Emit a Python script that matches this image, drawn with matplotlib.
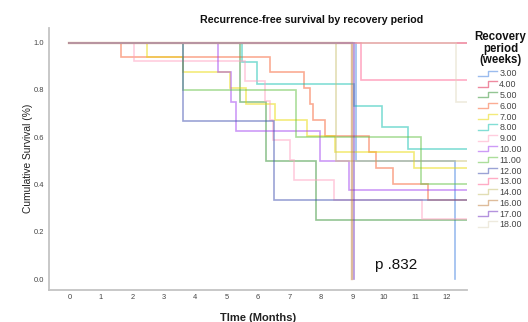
import matplotlib
matplotlib.use("Agg")
import matplotlib.pyplot as plt
from matplotlib.lines import Line2D
from matplotlib.legend_handler import HandlerBase

plt.rcParams['font.family'] = ['Liberation Sans', 'DejaVu Sans']

# ---- data ----
groups = ['3.00', '4.00', '5.00', '6.00', '7.00', '8.00', '9.00', '10.00',
          '11.00', '12.00', '13.00', '14.00', '16.00', '17.00', '18.00']

step_times = [
    [9.12, 12.27],                                              # 3.00
    [],                                                         # 4.00
    [5.44, 6.25, 7.83],                                         # 5.00
    [1.64, 6.39, 7.45, 7.65, 7.76, 8.13, 9.54, 9.75, 10.30, 11.41],  # 6.00
    [2.48, 3.62, 5.12, 5.62, 6.55, 7.56, 8.44, 10.97],          # 7.00
    [5.49, 5.96, 9.05, 9.93, 10.78],                            # 8.00
    [2.05, 5.59, 6.22, 6.38, 6.49, 7.02, 7.15, 8.43, 11.22],    # 9.00
    [4.72, 5.14, 5.31, 7.98, 8.91],                             # 10.00
    [3.62, 7.22, 11.18],                                        # 11.00
    [3.62, 6.52],                                               # 12.00
    [9.27],                                                     # 13.00
    [8.48],                                                     # 14.00
    [9.00],                                                     # 16.00
    [9.06],                                                     # 17.00
    [12.29],                                                    # 18.00
]

step_surv = [
    [0.5, 0.0],
    [],
    [0.75, 0.5, 0.25],
    [0.941, 0.874, 0.807, 0.740, 0.672, 0.605, 0.538, 0.471, 0.403, 0.336],
    [0.941, 0.874, 0.807, 0.740, 0.672, 0.605, 0.538, 0.471],
    [0.917, 0.825, 0.733, 0.642, 0.550],
    [0.923, 0.839, 0.755, 0.671, 0.587, 0.503, 0.420, 0.336, 0.252],
    [0.875, 0.75, 0.625, 0.5, 0.375],
    [0.8, 0.6, 0.4],
    [0.667, 0.333],
    [0.84],
    [0.5],
    [0.0],
    [0.0],
    [0.75],
]

group_colors = ['#3f7fe0', '#e0204a', '#309030', '#f86030', '#e8d800', '#10c0b0',
                '#ffa0c0', '#a040f0', '#60c040', '#4050b0', '#ff6090', '#c8c070',
                '#c08040', '#7030c0', '#e0d8c0']

x_ticks = list(range(0, 13))
y_ticks = [0.0, 0.2, 0.4, 0.6, 0.8, 1.0]
follow_up_end = 12.8
p_text = 'p .832'

# ---- figure ----
fig = plt.figure(figsize=(5.28, 3.22), dpi=100)
ax = fig.add_axes([49.3 / 528, 32.5 / 322, (467 - 49.3) / 528, (294.3 - 32.5) / 322])

ALPHA = 0.52
handles = []
for g, t, s, c in zip(groups, step_times, step_surv, group_colors):
    xs = [0.0] + t
    ys = [1.0] + s
    if not s or s[-1] > 0:
        xs = xs + [follow_up_end]
        ys = ys + [ys[-1]]
    lw = 1.7 if g == '16.00' else 1.2
    ln, = ax.plot(xs, ys, drawstyle='steps-post', color=c, lw=lw, alpha=ALPHA,
                  solid_joinstyle='miter')
    handles.append(ln)

ax.set_xlim(-0.64, 12.65)
ax.set_ylim(-0.044, 1.063)
ax.set_xticks(x_ticks)
ax.set_yticks(y_ticks)
ax.set_yticklabels([f'{v:.1f}' for v in y_ticks])
ax.tick_params(axis='both', length=0, labelsize=5.4, labelcolor='#444444')
ax.tick_params(axis='y', pad=3.6)
ax.tick_params(axis='x', pad=3.4)
for side in ['top', 'right']:
    ax.spines[side].set_visible(False)
for side in ['left', 'bottom']:
    ax.spines[side].set_color('#c4c4c4')
    ax.spines[side].set_linewidth(1.3)

ax.set_xlabel('TIme (Months)', fontsize=8, fontweight='bold', color='#222222')
ax.xaxis.set_label_coords(0.5, -0.088)
ax.set_ylabel('Cumulative Survival (%)', fontsize=7.4, color='#222222')
ax.yaxis.label.set_va('center')
ax.yaxis.set_label_coords(-0.051, 0.5)

ax.text(9.72, 0.06, p_text, fontsize=11, ha='left', va='center', color='#111111')

fig.text(311.7 / 528, 1 - 20 / 322, 'Recurrence-free survival by recovery period',
         fontsize=7.7, fontweight='bold', ha='center', va='center', color='#111111')

fig.text(500.5 / 528, 1 - 31 / 322, 'Recovery\nperiod\n(weeks)', fontsize=8.3,
         fontweight='bold', ha='center', va='top', multialignment='center',
         linespacing=0.95, color='#111111')


class StepHandler(HandlerBase):
    def create_artists(self, legend, orig_handle, xdescent, ydescent, width,
                       height, fontsize, trans):
        x0 = -xdescent
        y0 = -ydescent
        xs = [x0, x0 + width * 0.52, x0 + width * 0.52, x0 + width]
        ys = [y0 + 0.1 * height, y0 + 0.1 * height, y0 + 0.95 * height, y0 + 0.95 * height]
        line = Line2D(xs, ys, color=orig_handle.get_color(), alpha=ALPHA, lw=1.0)
        line.set_transform(trans)
        return [line]


leg = fig.legend(handles, groups, loc='upper left',
                 bbox_to_anchor=(478.3 / 528, 1 - 69.5 / 322),
                 frameon=False, fontsize=6.4, borderpad=0, borderaxespad=0,
                 handlelength=2.1, handleheight=0.7, handletextpad=0.25,
                 labelspacing=0.2,
                 handler_map={Line2D: StepHandler()})
for txt in leg.get_texts():
    txt.set_color('#444444')

fig.savefig('out.png', dpi=100)
